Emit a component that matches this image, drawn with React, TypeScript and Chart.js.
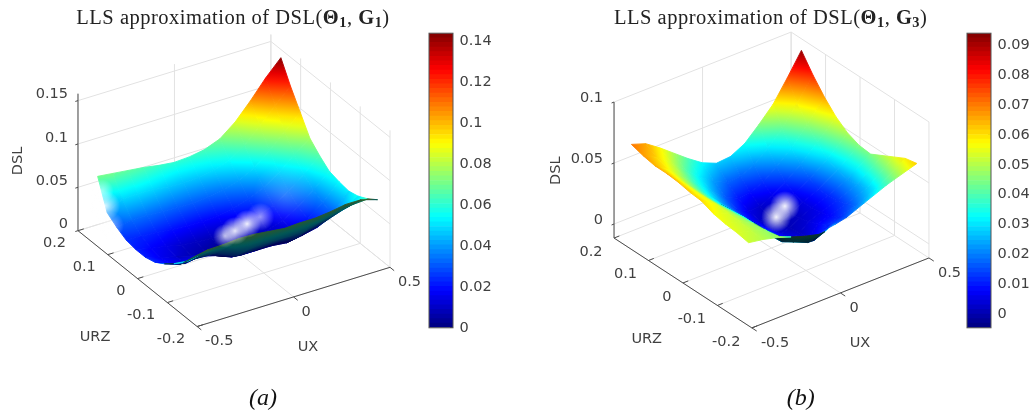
import React, { useEffect, useRef } from "react";
import { Chart, registerables } from "chart.js";

Chart.register(...registerables);

// ---------- values ----------
const uxTicks = [-0.5, 0, 0.5];
const urzTicks = [0.2, 0.1, 0, -0.1, -0.2];
const dslTicksA = [0, 0.05, 0.1, 0.15];
const dslTicksB = [0, 0.05, 0.1];
const barTicksA = [0, 0.02, 0.04, 0.06, 0.08, 0.1, 0.12, 0.14];
const barTicksB = [0, 0.01, 0.02, 0.03, 0.04, 0.05, 0.06, 0.07, 0.08, 0.09];

const uxGridA = [-0.46, -0.381, -0.302, -0.222, -0.143, -0.064, 0.015, 0.094, 0.174, 0.253, 0.332, 0.411, 0.49];
const urzBackA = 0.16;
const urzFrontA = [-0.16, -0.16, -0.16, -0.16, -0.16, -0.16, -0.16, -0.16, -0.16, -0.16, -0.16, -0.16, -0.165];
const dslA = [
  [0.071, 0.038, 0.03, 0.024, 0.022, 0.022, 0.025, 0.032, 0.041, 0.051, 0.066],
  [0.069, 0.048, 0.033, 0.023, 0.018, 0.016, 0.018, 0.026, 0.039, 0.054, 0.0695],
  [0.067, 0.049, 0.033, 0.022, 0.015, 0.012, 0.013, 0.027, 0.04, 0.055, 0.07],
  [0.065, 0.048, 0.032, 0.02, 0.011, 0.007, 0.016, 0.026, 0.038, 0.053, 0.0715],
  [0.062, 0.046, 0.031, 0.019, 0.009, 0.005, 0.011, 0.019, 0.028, 0.043, 0.071],
  [0.06, 0.045, 0.031, 0.018, 0.008, 0.001, 0.004, 0.015, 0.028, 0.045, 0.069],
  [0.061, 0.046, 0.032, 0.019, 0.009, 0.003, 0.003, 0.015, 0.029, 0.045, 0.067],
  [0.064, 0.049, 0.035, 0.023, 0.013, 0.006, 0.005, 0.015, 0.03, 0.044, 0.068],
  [0.071, 0.055, 0.041, 0.028, 0.017, 0.01, 0.008, 0.013, 0.027, 0.046, 0.068],
  [0.085, 0.067, 0.05, 0.036, 0.024, 0.016, 0.013, 0.016, 0.033, 0.05, 0.07],
  [0.104, 0.084, 0.064, 0.048, 0.035, 0.026, 0.021, 0.02, 0.037, 0.055, 0.073],
  [0.125, 0.102, 0.081, 0.063, 0.049, 0.04, 0.034, 0.03, 0.043, 0.058, 0.073],
  [0.143, 0.119, 0.098, 0.077, 0.066, 0.057, 0.054, 0.052, 0.055, 0.061, 0.069],
];

const uxGridB = [-0.47, -0.39, -0.31, -0.23, -0.15, -0.07, 0.01, 0.09, 0.17, 0.25, 0.33, 0.41, 0.49];
const urzBackB = 0.165;
const urzFrontB = [-0.175, -0.175, -0.175, -0.175, -0.175, -0.175, -0.15, -0.12, -0.1, -0.09, -0.1, -0.125, -0.17];
const dslB = [
  [0.07, 0.067, 0.065, 0.065, 0.064, 0.062, 0.061, 0.057, 0.055, 0.054, 0.052],
  [0.066, 0.061, 0.057, 0.055, 0.054, 0.054, 0.054, 0.053, 0.052, 0.051, 0.05],
  [0.058, 0.052, 0.047, 0.044, 0.043, 0.043, 0.044, 0.045, 0.046, 0.047, 0.047],
  [0.049, 0.041, 0.036, 0.033, 0.032, 0.033, 0.034, 0.034, 0.033, 0.037, 0.043],
  [0.04, 0.031, 0.026, 0.022, 0.021, 0.022, 0.022, 0.021, 0.022, 0.028, 0.039],
  [0.032, 0.023, 0.016, 0.012, 0.01, 0.011, 0.012, 0.012, 0.018, 0.023, 0.036],
  [0.027, 0.017, 0.01, 0.005, 0.003, 0.003, 0.004, 0.006, 0.009, 0.016, 0.029],
  [0.028, 0.017, 0.009, 0.003, 0.0, 0.0, 0.001, 0.002, 0.004, 0.01, 0.022],
  [0.034, 0.021, 0.012, 0.006, 0.002, 0.001, 0.002, 0.004, 0.007, 0.011, 0.017],
  [0.045, 0.03, 0.02, 0.012, 0.007, 0.005, 0.005, 0.006, 0.008, 0.011, 0.016],
  [0.057, 0.042, 0.031, 0.022, 0.015, 0.012, 0.011, 0.012, 0.014, 0.018, 0.025],
  [0.074, 0.059, 0.047, 0.037, 0.029, 0.025, 0.023, 0.024, 0.027, 0.032, 0.04],
  [0.092, 0.078, 0.066, 0.056, 0.049, 0.045, 0.044, 0.049, 0.054, 0.059, 0.061],
];

// specular glints on the surface: position on the surface and strength
const glintUxA = [0.003, 0.064, 0.142, 0.224, -0.47, -0.485, -0.498, 0.282];
const glintUrzA = [0.032, 0.038, 0.048, 0.057, 0.14, 0.119, 0.094, 0.011];
const glintDslA = [0.006, 0.006, 0.006, 0.006, 0.06, 0.05, 0.035, 0.04];
const glintAlphaA = [0.7, 0.9, 0.95, 0.6, 0.6, 0.85, 0.55, 0.18];
const glintUxB = [0.081, 0.171];
const glintUrzB = [0.028, 0.049];
const glintDslB = [0.004, 0.004];
const glintAlphaB = [0.95, 0.95];

// ---------- styling / view ----------
const glintSizeA = [12, 14, 14, 14, 12, 15, 14, 32];
const glintSizeB = [15, 15];
const TEXT = "#404040";
const FONT = '14.5px "DejaVu Sans"';

const jet = (t: number): number[] => {
  const c = (v: number) => Math.max(0, Math.min(1, v));
  return [c(1.5 - Math.abs(4 * t - 3)), c(1.5 - Math.abs(4 * t - 2)), c(1.5 - Math.abs(4 * t - 1))];
};
const rgb = (col: number[], k = 1) =>
  `rgb(${Math.round(col[0] * 255 * k)},${Math.round(col[1] * 255 * k)},${Math.round(col[2] * 255 * k)})`;

type Panel = any;

const panelA: Panel = {
  left: 0, width: 515, cx: 234, cy: 249, underside: 0.34,
  az: -31.7, el: 29.8, s: 226.7, k: 867, zFloor: 0, zTop: 0.158,
  ux: uxGridA, urzBack: urzBackA, urzFront: urzFrontA, dsl: dslA,
  lo: 0, hi: 0.144,
  dslTicks: dslTicksA,
  glint: { ux: glintUxA, urz: glintUrzA, z: glintDslA, a: glintAlphaA, r: glintSizeA },
  zLabel: [-10, -6], urzLabel: [-12, 13], uxLabel: [8, 15],
  dslPos: [18.5, 161], urzPos: [95, 337], uxPos: [308, 347],
};
const panelB: Panel = {
  left: 515, width: 516, cx: 771.5, cy: 248, underside: 0.2,
  az: -37.9, el: 30.5, s: 224.4, k: 1220, zFloor: -0.0115, zTop: 0.1,
  ux: uxGridB, urzBack: urzBackB, urzFront: urzFrontB, dsl: dslB,
  lo: -0.0046, hi: 0.0941,
  dslTicks: dslTicksB,
  glint: { ux: glintUxB, urz: glintUrzB, z: glintDslB, a: glintAlphaB, r: glintSizeB },
  zLabel: [-11, -4], urzLabel: [-11.5, 14], uxLabel: [9, 15],
  dslPos: [556.7, 170.7], urzPos: [646.7, 339], uxPos: [860, 343],
};

function makeProjector(p: Panel) {
  const a = (p.az * Math.PI) / 180;
  const e = (p.el * Math.PI) / 180;
  const floorUp = (ux: number, urz: number) => {
    const Y = urz / 0.4;
    return p.s * Math.sin(e) * (-ux * Math.sin(a) + Y * Math.cos(a));
  };
  const project = (ux: number, urz: number, z: number) => {
    const Y = urz / 0.4;
    return { x: p.s * (ux * Math.cos(a) + Y * Math.sin(a)), y: floorUp(ux, urz) + p.k * (z - p.zFloor) };
  };
  const closeness = (ux: number, urz: number, z: number) =>
    -floorUp(ux, urz) / Math.tan(e) + p.k * (z - p.zFloor) * Math.tan(e);
  return { project, closeness };
}

function facetPaint(ctx: any, pts: { x: number; y: number }[], zs: number[], p: Panel) {
  const chart = ctx.chart;
  const sx = chart.scales.x;
  const sy = chart.scales.y;
  const px = pts.map((q) => ({ x: sx.getPixelForValue(q.x), y: sy.getPixelForValue(q.y) }));
  if (px.some((q) => !Number.isFinite(q.x) || !Number.isFinite(q.y))) return "#888";
  const d1 = { x: px[2].x - px[0].x, y: px[2].y - px[0].y };
  const d2 = { x: px[3].x - px[1].x, y: px[3].y - px[1].y };
  const area = d1.x * d2.y - d1.y * d2.x;
  // grid runs right and towards the viewer: this sign is the upper side
  const shade = area > 0 ? 1 : p.underside;
  const col = (z: number) => rgb(jet(Math.max(0, Math.min(1, (z - p.lo) / (p.hi - p.lo)))), shade);
  const zc = (zs[0] + zs[1] + zs[2] + zs[3]) / 4;
  const dz1 = zs[2] - zs[0];
  const dz2 = zs[3] - zs[1];
  if (Math.abs(area) < 6) return col(zc);
  const ga = (dz1 * d2.y - dz2 * d1.y) / area;
  const gb = (d1.x * dz2 - d2.x * dz1) / area;
  const g2 = ga * ga + gb * gb;
  const zl = Math.min(...zs);
  const zh = Math.max(...zs);
  if (g2 < 1e-14 || zh - zl < 1e-5) return col(zc);
  const cx = (px[0].x + px[1].x + px[2].x + px[3].x) / 4;
  const cy = (px[0].y + px[1].y + px[2].y + px[3].y) / 4;
  const grad = chart.ctx.createLinearGradient(
    cx + (ga * (zl - zc)) / g2, cy + (gb * (zl - zc)) / g2,
    cx + (ga * (zh - zc)) / g2, cy + (gb * (zh - zc)) / g2
  );
  for (let i = 0; i <= 6; i++) grad.addColorStop(i / 6, col(zl + ((zh - zl) * i) / 6));
  return grad;
}

function surfaceDatasets(p: Panel) {
  const { project, closeness } = makeProjector(p);
  const cols = p.ux.length;
  const rows = p.dsl[0].length;
  const urzAt = (i: number, k: number) => p.urzBack + ((p.urzFront[i] - p.urzBack) * k) / (rows - 1);
  const facets: any[] = [];
  for (let i = 0; i < cols - 1; i++) {
    for (let k = 0; k < rows - 1; k++) {
      const corners = [[i, k], [i + 1, k], [i + 1, k + 1], [i, k + 1]];
      const zs = corners.map(([a, b]) => p.dsl[a][b]);
      const pts = corners.map(([a, b]) => project(p.ux[a], urzAt(a, b), p.dsl[a][b]));
      const near =
        corners.reduce((acc, [a, b]) => acc + closeness(p.ux[a], urzAt(a, b), p.dsl[a][b]), 0) / 4;
      const paint = (ctx: any) => facetPaint(ctx, pts, zs, p);
      facets.push({
        near,
        set: {
          data: [...pts, pts[0]],
          showLine: true,
          fill: "shape",
          backgroundColor: paint,
          borderColor: paint,
          borderWidth: 0.9,
          pointRadius: 0,
          tension: 0,
        },
      });
    }
  }
  facets.sort((a, b) => b.near - a.near);
  return facets.map((f) => f.set);
}

function frameDatasets(p: Panel) {
  const { project } = makeProjector(p);
  const line = (a: any, b: any, color: string, width: number) => ({
    data: [a, b],
    showLine: true,
    fill: false,
    borderColor: color,
    borderWidth: width,
    pointRadius: 0,
  });
  const U = 0.5, R = 0.2;
  const f = p.zFloor, t = p.zTop;
  const out: any[] = [];
  const grid = "#e2e2e2";
  const axis = "#4d4d4d";
  // walls
  for (const z of p.dslTicks) {
    out.push(line(project(-U, R, z), project(U, R, z), grid, 1));
    out.push(line(project(U, R, z), project(U, -R, z), grid, 1));
  }
  for (const u of uxTicks) {
    out.push(line(project(u, R, f), project(u, R, t), grid, 1));
    out.push(line(project(u, R, f), project(u, -R, f), grid, 1));
  }
  for (const r of urzTicks) {
    out.push(line(project(U, r, f), project(U, r, t), grid, 1));
    out.push(line(project(-U, r, f), project(U, r, f), grid, 1));
  }
  // axes and their tick marks
  const axes: any[] = [];
  axes.push(line(project(-U, R, f), project(-U, R, t), axis, 1));
  axes.push(line(project(-U, R, f), project(-U, -R, f), axis, 1));
  axes.push(line(project(-U, -R, f), project(U, -R, f), axis, 1));
  for (const z of p.dslTicks) axes.push(line(project(-U, R, z), project(-U - 0.014, R, z), axis, 1));
  for (const r of urzTicks) axes.push(line(project(-U, r, f), project(-U + 0.03, r, f), axis, 1));
  for (const u of uxTicks) axes.push(line(project(u, -R, f), project(u, -R - 0.014, f), axis, 1));
  return [...axes, ...out];
}

function glintDataset(p: Panel) {
  const { project } = makeProjector(p);
  const g = p.glint;
  const pts = g.ux.map((u: number, i: number) => project(u, g.urz[i], g.z[i]));
  return {
    data: pts,
    showLine: false,
    pointBorderWidth: 0,
    pointRadius: (c: any) => g.r[c.dataIndex] ?? 0,
    pointBackgroundColor: (c: any) => {
      const i = c.dataIndex;
      if (pts[i] === undefined) return "rgba(255,255,255,0)";
      const x = c.chart.scales.x.getPixelForValue(pts[i].x);
      const y = c.chart.scales.y.getPixelForValue(pts[i].y);
      if (!Number.isFinite(x) || !Number.isFinite(y)) return "rgba(255,255,255,0)";
      const grad = c.chart.ctx.createRadialGradient(x, y, 0, x, y, g.r[i]);
      grad.addColorStop(0, `rgba(255,255,255,${g.a[i]})`);
      grad.addColorStop(0.45, `rgba(255,255,255,${g.a[i] * 0.55})`);
      grad.addColorStop(1, "rgba(255,255,255,0)");
      return grad;
    },
  };
}

const labelPlugin = (p: Panel) => ({
  id: "axisText",
  afterDraw(chart: any) {
    const { project } = makeProjector(p);
    const sx = chart.scales.x;
    const sy = chart.scales.y;
    const c = chart.ctx;
    const at = (q: any, off: number[]) => [sx.getPixelForValue(q.x) + off[0], sy.getPixelForValue(q.y) + off[1]];
    c.save();
    c.font = FONT;
    c.fillStyle = TEXT;
    c.textBaseline = "middle";
    c.textAlign = "right";
    for (const z of p.dslTicks) {
      const [x, y] = at(project(-0.5, 0.2, z), p.zLabel);
      c.fillText(String(z), x, y);
    }
    for (const r of urzTicks) {
      const [x, y] = at(project(-0.5, r, p.zFloor), p.urzLabel);
      c.fillText(String(r), x, y);
    }
    c.textAlign = "left";
    for (const u of uxTicks) {
      const [x, y] = at(project(u, -0.2, p.zFloor), p.uxLabel);
      c.fillText(String(u), x, y);
    }
    c.textAlign = "center";
    c.fillText("URZ", p.urzPos[0] - p.left, p.urzPos[1]);
    c.fillText("UX", p.uxPos[0] - p.left, p.uxPos[1]);
    c.translate(p.dslPos[0] - p.left, p.dslPos[1]);
    c.rotate(-Math.PI / 2);
    c.fillText("DSL", 0, 0);
    c.restore();
  },
});

function makeSurface(canvas: HTMLCanvasElement, p: Panel) {
  return new Chart(canvas, {
    type: "scatter",
    data: { datasets: [glintDataset(p), ...surfaceDatasets(p), ...frameDatasets(p)] as any },
    options: {
      responsive: false,
      animation: false,
      events: [],
      layout: { padding: 0, autoPadding: false },
      plugins: { legend: { display: false }, tooltip: { enabled: false }, title: { display: false } },
      scales: {
        x: { type: "linear", display: false, min: p.left - p.cx, max: p.left + p.width - p.cx },
        y: { type: "linear", display: false, min: p.cy - 416, max: p.cy },
      },
    },
    plugins: [labelPlugin(p)],
  } as any);
}

const framePlugin = {
  id: "barFrame",
  afterDraw(chart: any) {
    const a = chart.chartArea;
    const c = chart.ctx;
    c.save();
    c.strokeStyle = "#555";
    c.lineWidth = 1;
    c.strokeRect(a.left, a.top, a.right - a.left, a.bottom - a.top);
    c.restore();
  },
};

function makeBar(canvas: HTMLCanvasElement, lo: number, hi: number, ticks: number[]) {
  const levels = 64;
  const sets = [];
  for (let i = 0; i < levels; i++) {
    sets.push({
      data: [[lo + ((hi - lo) * i) / levels, lo + ((hi - lo) * (i + 1)) / levels]],
      backgroundColor: rgb(jet((i + 0.5) / levels)),
      borderWidth: 0,
      barPercentage: 1,
      categoryPercentage: 1,
      grouped: false,
    });
  }
  return new Chart(canvas, {
    type: "bar",
    data: { labels: ["DSL"], datasets: sets as any },
    options: {
      responsive: false,
      animation: false,
      events: [],
      layout: { padding: { left: 5, top: 0, bottom: 0, right: 0 }, autoPadding: false },
      plugins: { legend: { display: false }, tooltip: { enabled: false } },
      scales: {
        x: { display: false, stacked: false },
        y: {
          type: "linear",
          position: "right",
          min: lo,
          max: hi,
          border: { display: false },
          grid: { drawOnChartArea: false, drawTicks: true, tickLength: -3, color: "#444" },
          ticks: {
            autoSkip: false,
            padding: 9.5,
            color: TEXT,
            font: { family: "DejaVu Sans", size: 14.5 },
            callback: (v: any) => String(v),
          },
          afterBuildTicks: (s: any) => {
            s.ticks = ticks.map((value) => ({ value }));
          },
          afterFit: (s: any) => {
            s.width = 50;
          },
        },
      },
    },
    plugins: [framePlugin],
  } as any);
}

const abs = (left: number, top: number): React.CSSProperties => ({ position: "absolute", left, top });

const titleStyle = (center: number): React.CSSProperties => ({
  position: "absolute",
  left: center - 200,
  width: 400,
  top: 4,
  textAlign: "center",
  fontFamily: '"Liberation Serif", serif',
  fontSize: 20.5,
  letterSpacing: 0.5,
  lineHeight: "26px",
  color: "#222",
  whiteSpace: "nowrap",
});
const subStyle: React.CSSProperties = { fontSize: "70%", fontWeight: 700, verticalAlign: "-3px", lineHeight: 0 };
const capStyle = (center: number): React.CSSProperties => ({
  position: "absolute",
  left: center - 40,
  width: 80,
  top: 383,
  textAlign: "center",
  fontFamily: '"Liberation Serif", serif',
  fontStyle: "italic",
  fontSize: 24,
  lineHeight: "28px",
  color: "#111",
});

export default function App() {
  const a = useRef<HTMLCanvasElement>(null);
  const b = useRef<HTMLCanvasElement>(null);
  const ca = useRef<HTMLCanvasElement>(null);
  const cb = useRef<HTMLCanvasElement>(null);
  useEffect(() => {
    const charts = [
      makeSurface(a.current!, panelA),
      makeSurface(b.current!, panelB),
      makeBar(ca.current!, panelA.lo, panelA.hi, barTicksA),
      makeBar(cb.current!, panelB.lo, panelB.hi, barTicksB),
    ];
    return () => charts.forEach((c) => c.destroy());
  }, []);
  return (
    <div style={{ position: "fixed", left: 0, top: 0, width: 1031, height: 416, background: "#fff", overflow: "hidden", filter: "blur(0.4px)" }}>
      <canvas ref={a} width={515} height={416} style={abs(0, 0)} />
      <canvas ref={b} width={516} height={416} style={abs(515, 0)} />
      <canvas ref={ca} width={79} height={331} style={abs(424, 15)} />
      <canvas ref={cb} width={79} height={331} style={abs(962, 15)} />
      <div style={titleStyle(233)}>
        LLS approximation of DSL(<b>{"\u0398"}<sub style={subStyle}>1</sub></b>, <b>G<sub style={subStyle}>1</sub></b>)
      </div>
      <div style={titleStyle(770.7)}>
        LLS approximation of DSL(<b>{"\u0398"}<sub style={subStyle}>1</sub></b>, <b>G<sub style={subStyle}>3</sub></b>)
      </div>
      <div style={capStyle(263)}>(a)</div>
      <div style={capStyle(800.7)}>(b)</div>
    </div>
  );
}
